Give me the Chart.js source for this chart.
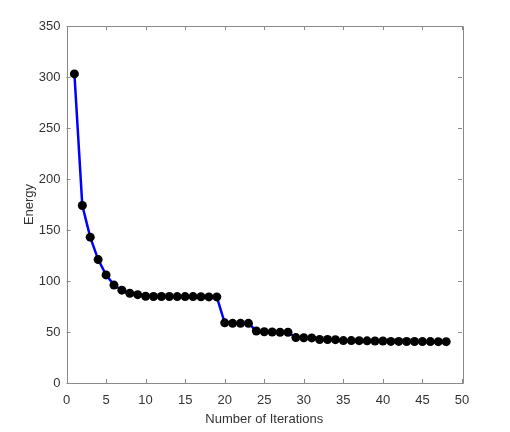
<!DOCTYPE html>
<html>
<head>
<meta charset="utf-8">
<script src="https://cdn.jsdelivr.net/npm/chart.js@4"></script>
<style>
html,body{margin:0;padding:0;background:#fff;}
#wrap{width:510px;height:432px;}
</style>
</head>
<body>
<div id="wrap"><canvas id="c" width="510" height="432"></canvas></div>
<script>
const iterations = [1,2,3,4,5,6,7,8,9,10,11,12,13,14,15,16,17,18,19,20,21,22,23,24,25,26,27,28,29,30,31,32,33,34,35,36,37,38,39,40,41,42,43,44,45,46,47,48];
const energy = [303,174,143,121,106,96,91,88,86.6,85,84.8,84.8,84.8,84.7,84.7,84.7,84.6,84.4,84.4,59,58.5,58.5,58.5,51,50.2,50,49.8,49.8,44.5,44.4,44.2,42.6,42.6,42.5,41.6,41.6,41.5,41.3,41.2,41.2,40.8,40.8,40.7,40.7,40.6,40.6,40.5,40.5];
const xTicks = [0,5,10,15,20,25,30,35,40,45,50];
const yTicks = [0,50,100,150,200,250,300,350];

const axisColor = '#8a8a8a';
const textColor = '#333333';
const fontFam = '"Liberation Sans", Arial, sans-serif';

const boxPlugin = {
  id: 'box',
  afterDatasetsDraw(chart) {
    const {ctx, chartArea: a, scales: {x, y}} = chart;
    ctx.save();
    ctx.strokeStyle = axisColor;
    ctx.lineWidth = 1;
    ctx.beginPath();
    ctx.rect(Math.round(a.left) + 0.5, Math.round(a.top) + 0.5, Math.round(a.right - a.left), Math.round(a.bottom - a.top));
    const tl = 4;
    x.ticks.forEach(t => {
      const px = Math.round(x.getPixelForValue(t.value)) + 0.5;
      ctx.moveTo(px, a.bottom); ctx.lineTo(px, a.bottom - tl);
      ctx.moveTo(px, a.top); ctx.lineTo(px, a.top + tl);
    });
    y.ticks.forEach(t => {
      const py = Math.round(y.getPixelForValue(t.value)) + 0.5;
      ctx.moveTo(a.left, py); ctx.lineTo(a.left + tl, py);
      ctx.moveTo(a.right, py); ctx.lineTo(a.right - tl, py);
    });
    ctx.stroke();
    ctx.restore();
  }
};

new Chart(document.getElementById('c'), {
  type: 'line',
  data: {
    datasets: [{
      data: iterations.map((v, i) => ({x: v, y: energy[i]})),
      borderColor: '#0000ff',
      borderWidth: 2.5,
      pointRadius: 4.5,
      pointBackgroundColor: '#000000',
      pointBorderColor: '#000000',
      pointBorderWidth: 0,
      tension: 0,
      fill: false
    }]
  },
  options: {
    responsive: false,
    animation: false,
    devicePixelRatio: 1,
    layout: {padding: {top: 26, right: 48, left: 0, bottom: 0}},
    plugins: {legend: {display: false}, tooltip: {enabled: false}},
    scales: {
      x: {
        type: 'linear', min: 0, max: 50,
        afterBuildTicks: s => { s.ticks = xTicks.map(v => ({value: v})); },
        afterFit: s => { s.height = 49; },
        grid: {display: false, drawTicks: false},
        border: {display: false},
        ticks: {color: textColor, font: {family: fontFam, size: 13}, padding: 10, maxRotation: 0},
        title: {display: true, text: 'Number of Iterations', color: textColor, font: {family: fontFam, size: 13}, padding: {top: 0, bottom: 5}}
      },
      y: {
        type: 'linear', min: 0, max: 350,
        afterBuildTicks: s => { s.ticks = yTicks.map(v => ({value: v})); },
        afterFit: s => { s.width = 66.5; },
        grid: {display: false, drawTicks: false},
        border: {display: false},
        ticks: {color: textColor, font: {family: fontFam, size: 13}, padding: 6},
        title: {display: true, text: 'Energy', color: textColor, font: {family: fontFam, size: 13}, padding: {top: 22, bottom: 0}}
      }
    }
  },
  plugins: [boxPlugin]
});
</script>
</body>
</html>
